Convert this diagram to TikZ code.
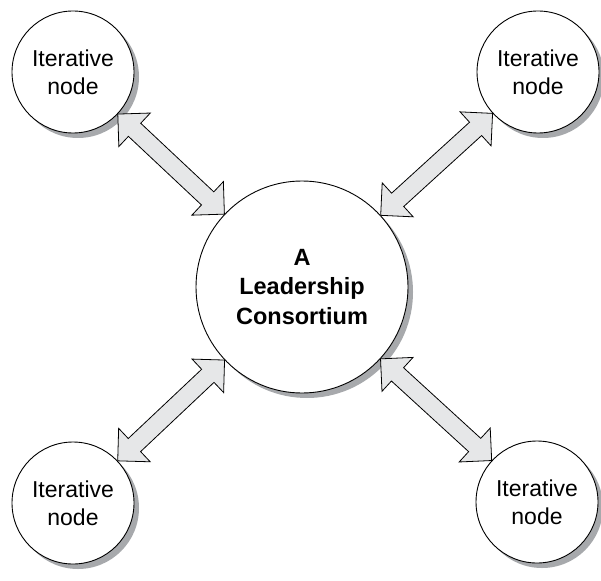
\documentclass[tikz,border=0pt]{standalone}
\usepackage{fontspec}
\setmainfont{Liberation Sans}
\usetikzlibrary{calc}
\definecolor{arrowgray}{HTML}{E6E7E8}
\definecolor{shadowgray}{HTML}{A7A9AC}
\tikzset{
  smallnode/.style={circle, draw, line width=0.9pt, fill=white, minimum size=122pt, inner sep=0pt,
    align=center, font=\fontsize{23}{28}\selectfont},
  bignode/.style={circle, draw, line width=0.9pt, fill=white, minimum size=212pt, inner sep=0pt,
    align=center, font=\fontsize{23.5}{29.5}\selectfont\bfseries},
  shadowfill/.style={fill=shadowgray, draw=none},
  blockarrow/.style={draw, fill=arrowgray, line width=0.8pt, line join=miter}
}
\newcommand\dblarrow[2]{%
  \path (#1) -- coordinate[pos=0] (ba) coordinate[pos=1] (bb) (#2);
  \coordinate (h1) at ($(ba)!23pt!(bb)$);
  \coordinate (h2) at ($(bb)!23pt!(ba)$);
  \draw[blockarrow] (ba)
    -- ($(h1)!23pt!90:(bb)$) -- ($(h1)!9pt!90:(bb)$)
    -- ($(h2)!9pt!-90:(ba)$) -- ($(h2)!23pt!-90:(ba)$)
    -- (bb)
    -- ($(h2)!23pt!90:(ba)$) -- ($(h2)!9pt!90:(ba)$)
    -- ($(h1)!9pt!-90:(bb)$) -- ($(h1)!23pt!-90:(bb)$)
    -- cycle;
}
\begin{document}
\begin{tikzpicture}[x=1pt,y=-1pt]
  \useasboundingbox (0,0) rectangle (601,580);
  \path[shadowfill] (307,292) circle[radius=106pt];
  \path[shadowfill] (78,77) circle[radius=61pt];
  \path[shadowfill] (543,77) circle[radius=61pt];
  \path[shadowfill] (78,508) circle[radius=61pt];
  \path[shadowfill] (542,507) circle[radius=61pt];
  \node[bignode] (c) at (302,287) {A\\Leadership\\Consortium};
  \node[smallnode] (tl) at (73,72) {Iterative\\node};
  \node[smallnode] (tr) at (538,72) {Iterative\\node};
  \node[smallnode] (bl) at (73,503) {Iterative\\node};
  \node[smallnode] (br) at (537,502) {Iterative\\node};
  \dblarrow{tl}{c}
  \dblarrow{tr}{c}
  \dblarrow{bl}{c}
  \dblarrow{br}{c}
\end{tikzpicture}
\end{document}
